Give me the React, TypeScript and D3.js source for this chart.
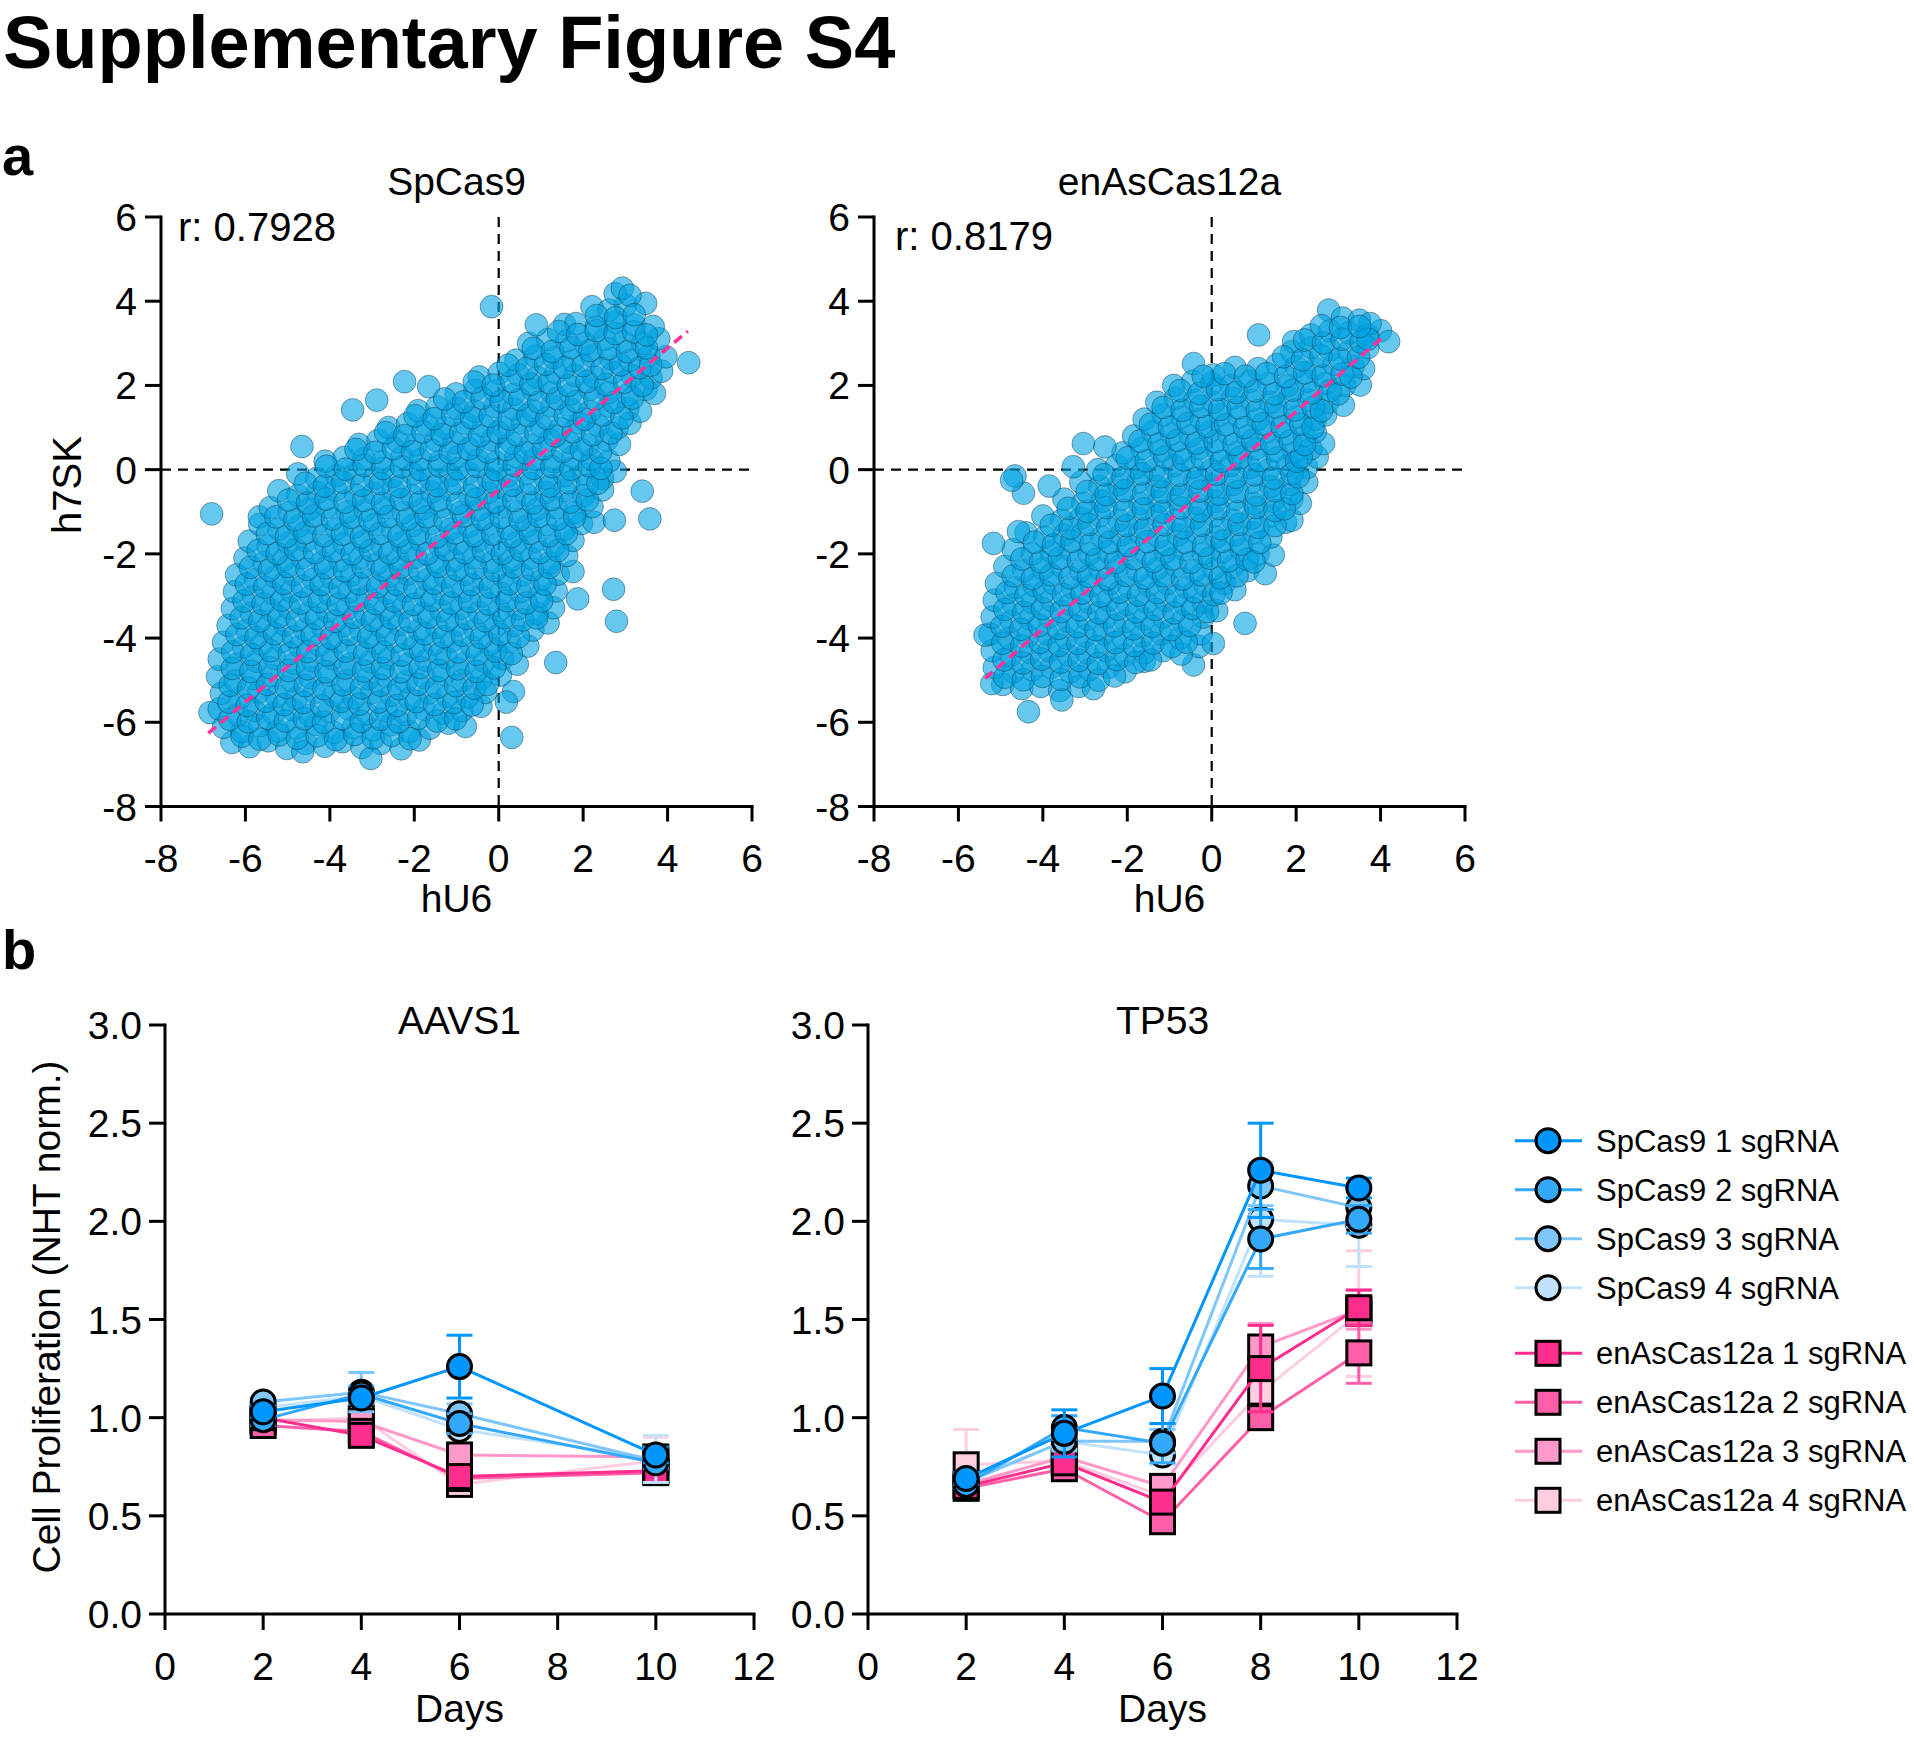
import React from "react";
import * as d3 from "d3";

const FONT = "'Liberation Sans', Arial, Helvetica, sans-serif";

// ---------------- panel a : scatter data ----------------
const scatterTicks = [-8, -6, -4, -2, 0, 2, 4, 6];
const scatterTitles = ["SpCas9", "enAsCas12a"];
const scatterCorr = ["r: 0.7928", "r: 0.8179"];

// outer / edge guides of the SpCas9 cloud
const spCas9Points: [number, number][] = [
  [-6.32,-6.48],[-5.9,-6.58],[-5.46,-6.44],[-5.02,-6.62],[-4.58,-6.5],[-4.12,-6.57],[-3.7,-6.46],[-3.24,-6.6],[-2.79,-6.5],[-2.31,-6.63],[-1.88,-6.42],[-3.03,-6.86],[-4.64,-6.7],
  [-6.84,-5.77],[-6.52,-6.12],[-6.08,-6.22],[-5.66,-6.08],[-5.24,-6.2],[-4.79,-6.13],[-4.33,-6.05],[-3.91,-6.24],[-3.44,-6.12],[-2.98,-6.18],[-2.56,-6.06],[-2.12,-6.22],[-1.63,-6.14],[-1.19,-6.02],[-0.79,-6.1],
  [-6.62,-5.68],[-6.18,-5.82],[-5.79,-5.72],[-5.33,-5.79],[-4.88,-5.7],[-4.47,-5.84],[-4.02,-5.74],[-3.56,-5.68],[-3.12,-5.8],[-2.66,-5.73],[-2.2,-5.82],[-1.77,-5.69],[-1.31,-5.78],[-0.87,-5.72],[-0.42,-5.62],
  [-6.57,-5.31],[-6.13,-5.42],[-5.68,-5.28],[-5.26,-5.38],[-4.8,-5.43],[-4.36,-5.29],[-3.91,-5.37],[-3.43,-5.42],[-3.01,-5.3],[-2.54,-5.36],[-2.11,-5.44],[-1.64,-5.3],[-1.22,-5.38],[-0.74,-5.4],[-0.31,-5.29],[0.35,-5.27],[0.18,-5.52],[0.31,-6.36],
  [-6.66,-4.92],[-6.24,-5.02],[-5.81,-4.96],[-5.37,-4.89],[-4.9,-5.01],[-4.46,-4.94],[-4.01,-4.88],[-3.57,-5.0],[-3.09,-4.96],[-2.66,-4.9],[-2.19,-5.03],[-1.76,-4.94],[-1.3,-4.87],[-0.86,-5.0],[-0.41,-4.96],[0.04,-4.88],
  [-6.62,-4.5],[-6.19,-4.62],[-5.74,-4.55],[-5.31,-4.48],[-4.84,-4.6],[-4.41,-4.54],[-3.94,-4.49],[-3.51,-4.61],[-3.04,-4.56],[-2.61,-4.48],[-2.14,-4.62],[-1.71,-4.53],[-1.24,-4.47],[-0.81,-4.6],[-0.34,-4.55],[0.09,-4.49],[0.44,-4.62],[1.35,-4.58],
  [-6.52,-4.1],[-6.04,-4.21],[-5.62,-4.14],[-5.14,-4.08],[-4.71,-4.2],[-4.24,-4.16],[-3.81,-4.09],[-3.34,-4.22],[-2.91,-4.13],[-2.44,-4.08],[-2.01,-4.21],[-1.54,-4.14],[-1.11,-4.07],[-0.64,-4.2],[-0.21,-4.15],[0.26,-4.09],[0.69,-4.19],
  [-6.41,-3.7],[-5.96,-3.81],[-5.49,-3.74],[-5.06,-3.69],[-4.59,-3.8],[-4.16,-3.76],[-3.69,-3.7],[-3.26,-3.82],[-2.79,-3.73],[-2.36,-3.68],[-1.89,-3.81],[-1.46,-3.75],[-0.99,-3.69],[-0.56,-3.8],[-0.09,-3.74],[0.36,-3.7],[0.81,-3.81],[1.17,-3.64],
  [-6.31,-3.3],[-5.86,-3.41],[-5.39,-3.34],[-4.96,-3.29],[-4.49,-3.4],[-4.06,-3.36],[-3.59,-3.3],[-3.16,-3.42],[-2.69,-3.33],[-2.26,-3.28],[-1.79,-3.41],[-1.36,-3.35],[-0.89,-3.29],[-0.46,-3.4],[0.01,-3.34],[0.46,-3.3],[0.91,-3.41],[1.3,-3.28],[2.79,-3.6],[1.87,-3.07],
  [-6.26,-2.9],[-5.81,-3.01],[-5.34,-2.94],[-4.91,-2.89],[-4.44,-3.0],[-4.01,-2.96],[-3.54,-2.9],[-3.11,-3.02],[-2.64,-2.93],[-2.21,-2.88],[-1.74,-3.01],[-1.31,-2.95],[-0.84,-2.89],[-0.41,-3.0],[0.06,-2.94],[0.51,-2.9],[0.96,-3.01],[1.36,-2.88],[2.72,-2.84],
  [-6.21,-2.5],[-5.76,-2.61],[-5.29,-2.54],[-4.86,-2.49],[-4.39,-2.6],[-3.96,-2.56],[-3.49,-2.5],[-3.06,-2.62],[-2.59,-2.53],[-2.16,-2.48],[-1.69,-2.61],[-1.26,-2.55],[-0.79,-2.49],[-0.36,-2.6],[0.11,-2.54],[0.56,-2.5],[1.01,-2.61],[1.41,-2.48],[1.76,-2.42],
  [-6.01,-2.1],[-5.56,-2.21],[-5.09,-2.14],[-4.66,-2.09],[-4.19,-2.2],[-3.76,-2.16],[-3.29,-2.1],[-2.86,-2.22],[-2.39,-2.13],[-1.96,-2.08],[-1.49,-2.21],[-1.06,-2.15],[-0.59,-2.09],[-0.16,-2.2],[0.31,-2.14],[0.76,-2.1],[1.21,-2.21],[1.61,-2.04],
  [-5.91,-1.7],[-5.46,-1.81],[-4.99,-1.74],[-4.56,-1.69],[-4.09,-1.8],[-3.66,-1.76],[-3.19,-1.7],[-2.76,-1.82],[-2.29,-1.73],[-1.86,-1.68],[-1.39,-1.81],[-0.96,-1.75],[-0.49,-1.69],[-0.06,-1.8],[0.41,-1.74],[0.86,-1.7],[1.31,-1.81],[1.76,-1.68],
  [-5.66,-1.3],[-5.21,-1.41],[-4.74,-1.34],[-4.31,-1.29],[-3.84,-1.4],[-3.41,-1.36],[-2.94,-1.3],[-2.51,-1.42],[-2.04,-1.33],[-1.61,-1.28],[-1.14,-1.41],[-0.71,-1.35],[-0.24,-1.29],[0.21,-1.4],[0.66,-1.34],[1.11,-1.3],[1.56,-1.41],[1.96,-1.28],[2.26,-1.25],[2.74,-1.2],[3.58,-1.17],[-5.67,-1.12],[-6.8,-1.05],
  [-5.41,-0.9],[-4.96,-1.01],[-4.49,-0.94],[-4.06,-0.89],[-3.59,-1.0],[-3.16,-0.96],[-2.69,-0.9],[-2.26,-1.02],[-1.79,-0.93],[-1.36,-0.88],[-0.89,-1.01],[-0.46,-0.95],[0.01,-0.89],[0.46,-1.0],[0.91,-0.94],[1.36,-0.9],[1.81,-1.01],[2.21,-0.88],
  [-5.21,-0.5],[-4.76,-0.61],[-4.29,-0.54],[-3.86,-0.49],[-3.39,-0.6],[-2.96,-0.56],[-2.49,-0.5],[-2.06,-0.62],[-1.59,-0.53],[-1.16,-0.48],[-0.69,-0.61],[-0.26,-0.55],[0.21,-0.49],[0.66,-0.6],[1.11,-0.54],[1.56,-0.5],[2.01,-0.61],[2.46,-0.48],[3.4,-0.51],
  [-4.76,-0.1],[-4.31,-0.21],[-3.84,-0.14],[-3.41,-0.09],[-2.94,-0.2],[-2.51,-0.16],[-2.04,-0.1],[-1.61,-0.22],[-1.14,-0.13],[-0.71,-0.08],[-0.24,-0.21],[0.21,-0.15],[0.66,-0.09],[1.11,-0.2],[1.56,-0.14],[2.01,-0.1],[2.46,-0.21],[2.76,-0.04],
  [-4.11,0.2],[-3.66,0.29],[-3.19,0.26],[-2.76,0.19],[-2.29,0.3],[-1.86,0.24],[-1.39,0.2],[-0.96,0.31],[-0.49,0.23],[-0.06,0.18],[0.41,0.31],[0.86,0.25],[1.31,0.19],[1.76,0.3],[2.21,0.24],[2.61,0.2],[-4.66,0.55],
  [-3.31,0.6],[-2.86,0.69],[-2.39,0.66],[-1.96,0.59],[-1.49,0.7],[-1.06,0.64],[-0.59,0.6],[-0.16,0.71],[0.31,0.63],[0.76,0.58],[1.21,0.71],[1.66,0.65],[2.11,0.59],[2.56,0.7],[2.86,0.6],
  [-2.61,1.0],[-2.16,1.09],[-1.69,1.06],[-1.26,0.99],[-0.79,1.1],[-0.36,1.04],[0.11,1.0],[0.56,1.11],[1.01,1.03],[1.46,0.98],[1.91,1.11],[2.36,1.05],[2.81,0.99],[3.11,1.1],
  [-1.91,1.4],[-1.46,1.49],[-0.99,1.46],[-0.56,1.39],[-0.09,1.5],[0.36,1.44],[0.81,1.4],[1.26,1.51],[1.71,1.43],[2.16,1.38],[2.61,1.51],[3.06,1.45],[3.36,1.39],[-3.46,1.42],[-2.89,1.65],
  [-1.01,1.8],[-0.56,1.89],[-0.09,1.86],[0.36,1.79],[0.81,1.9],[1.26,1.84],[1.71,1.8],[2.16,1.91],[2.61,1.83],[3.06,1.78],[3.49,1.91],[3.69,1.81],[-2.23,2.09],[-1.66,1.97],
  [-0.46,2.2],[0.01,2.29],[0.46,2.26],[0.91,2.19],[1.36,2.3],[1.81,2.24],[2.26,2.2],[2.71,2.31],[3.16,2.23],[3.61,2.18],[3.86,2.34],
  [0.41,2.6],[0.86,2.69],[1.31,2.66],[1.76,2.59],[2.21,2.7],[2.66,2.64],[3.11,2.6],[3.56,2.71],[3.96,2.68],[4.5,2.54],
  [0.71,3.0],[1.16,3.09],[1.61,3.06],[2.06,2.99],[2.51,3.1],[2.96,3.04],[3.41,3.0],[3.79,3.11],
  [0.89,3.44],[1.56,3.45],[1.83,3.47],[2.31,3.39],[2.76,3.5],[3.21,3.44],[3.66,3.4],
  [-0.17,3.87],[2.21,3.87],[2.61,3.79],[3.01,3.91],[3.48,3.95],
  [2.76,4.18],[2.93,4.31],[3.11,4.14],
];

// dense core of the SpCas9 cloud
const spCas9CorePoints: [number, number][] = [
  [-6.08,-6.33],[-5.66,-6.4],[-5.2,-6.3],[-4.77,-6.38],[-4.3,-6.32],[-3.86,-6.41],[-3.41,-6.29],[-2.97,-6.37],[-2.53,-6.31],[-2.1,-6.39],
  [-6.37,-5.93],[-5.93,-5.99],[-5.47,-5.9],[-5.05,-5.97],[-4.6,-5.92],[-4.15,-6.0],[-3.7,-5.91],[-3.26,-5.98],[-2.8,-5.93],[-2.37,-5.99],[-1.9,-5.9],[-1.46,-5.97],[-1.02,-5.92],
  [-6.39,-5.52],[-5.96,-5.6],[-5.51,-5.5],[-5.08,-5.58],[-4.62,-5.53],[-4.19,-5.61],[-3.73,-5.5],[-3.3,-5.57],[-2.84,-5.52],[-2.41,-5.6],[-1.95,-5.51],[-1.52,-5.58],[-1.06,-5.53],[-0.63,-5.59],
  [-6.36,-5.12],[-5.92,-5.19],[-5.48,-5.1],[-5.03,-5.17],[-4.58,-5.13],[-4.14,-5.2],[-3.69,-5.11],[-3.25,-5.18],[-2.8,-5.12],[-2.36,-5.2],[-1.91,-5.1],[-1.47,-5.17],[-1.02,-5.13],[-0.58,-5.19],[-0.27,-5.1],
  [-6.31,-4.72],[-5.87,-4.79],[-5.42,-4.7],[-4.98,-4.77],[-4.53,-4.73],[-4.09,-4.8],[-3.64,-4.71],[-3.2,-4.78],[-2.75,-4.72],[-2.31,-4.8],[-1.86,-4.7],[-1.42,-4.77],[-0.97,-4.73],[-0.53,-4.79],[-0.1,-4.71],
  [-6.3,-4.33],[-5.85,-4.39],[-5.41,-4.3],[-4.96,-4.37],[-4.52,-4.32],[-4.07,-4.4],[-3.63,-4.31],[-3.18,-4.38],[-2.74,-4.33],[-2.29,-4.4],[-1.85,-4.3],[-1.4,-4.37],[-0.96,-4.33],[-0.51,-4.39],[-0.07,-4.31],[0.3,-4.37],
  [-6.2,-3.92],[-5.75,-3.99],[-5.31,-3.9],[-4.86,-3.97],[-4.42,-3.93],[-3.97,-4.0],[-3.53,-3.91],[-3.08,-3.98],[-2.64,-3.92],[-2.19,-4.0],[-1.75,-3.9],[-1.3,-3.97],[-0.86,-3.93],[-0.41,-3.99],[0.03,-3.91],[0.47,-3.97],
  [-6.1,-3.52],[-5.66,-3.59],[-5.21,-3.5],[-4.77,-3.57],[-4.32,-3.53],[-3.88,-3.6],[-3.43,-3.51],[-2.99,-3.58],[-2.54,-3.52],[-2.1,-3.6],[-1.65,-3.5],[-1.21,-3.57],[-0.76,-3.53],[-0.32,-3.59],[0.13,-3.51],[0.57,-3.57],[0.9,-3.52],
  [-6.03,-3.12],[-5.58,-3.19],[-5.14,-3.1],[-4.69,-3.17],[-4.25,-3.13],[-3.8,-3.2],[-3.36,-3.11],[-2.91,-3.18],[-2.47,-3.12],[-2.02,-3.2],[-1.58,-3.1],[-1.13,-3.17],[-0.69,-3.13],[-0.24,-3.19],[0.2,-3.11],[0.65,-3.17],[1.02,-3.12],
  [-5.98,-2.72],[-5.54,-2.79],[-5.09,-2.7],[-4.65,-2.77],[-4.2,-2.73],[-3.76,-2.8],[-3.31,-2.71],[-2.87,-2.78],[-2.42,-2.72],[-1.98,-2.8],[-1.53,-2.7],[-1.09,-2.77],[-0.64,-2.73],[-0.2,-2.79],[0.25,-2.71],[0.69,-2.77],[1.1,-2.72],
  [-5.88,-2.32],[-5.43,-2.39],[-4.99,-2.3],[-4.54,-2.37],[-4.1,-2.33],[-3.65,-2.4],[-3.21,-2.31],[-2.76,-2.38],[-2.32,-2.32],[-1.87,-2.4],[-1.43,-2.3],[-0.98,-2.37],[-0.54,-2.33],[-0.09,-2.39],[0.35,-2.31],[0.8,-2.37],[1.2,-2.32],
  [-5.7,-1.92],[-5.25,-1.99],[-4.81,-1.9],[-4.36,-1.97],[-3.92,-1.93],[-3.47,-2.0],[-3.03,-1.91],[-2.58,-1.98],[-2.14,-1.92],[-1.69,-2.0],[-1.25,-1.9],[-0.8,-1.97],[-0.36,-1.93],[0.09,-1.99],[0.53,-1.91],[0.98,-1.97],[1.4,-1.92],
  [-5.48,-1.52],[-5.03,-1.59],[-4.59,-1.5],[-4.14,-1.57],[-3.7,-1.53],[-3.25,-1.6],[-2.81,-1.51],[-2.36,-1.58],[-1.92,-1.52],[-1.47,-1.6],[-1.03,-1.5],[-0.58,-1.57],[-0.14,-1.53],[0.31,-1.59],[0.75,-1.51],[1.2,-1.57],[1.6,-1.52],
  [-5.28,-1.12],[-4.83,-1.19],[-4.39,-1.1],[-3.94,-1.17],[-3.5,-1.13],[-3.05,-1.2],[-2.61,-1.11],[-2.16,-1.18],[-1.72,-1.12],[-1.27,-1.2],[-0.83,-1.1],[-0.38,-1.17],[0.06,-1.13],[0.51,-1.19],[0.95,-1.11],[1.4,-1.17],[1.8,-1.12],
  [-4.98,-0.72],[-4.53,-0.79],[-4.09,-0.7],[-3.64,-0.77],[-3.2,-0.73],[-2.75,-0.8],[-2.31,-0.71],[-1.86,-0.78],[-1.42,-0.72],[-0.97,-0.8],[-0.53,-0.7],[-0.08,-0.77],[0.36,-0.73],[0.81,-0.79],[1.25,-0.71],[1.7,-0.77],[2.1,-0.72],
  [-4.58,-0.32],[-4.13,-0.39],[-3.69,-0.3],[-3.24,-0.37],[-2.8,-0.33],[-2.35,-0.4],[-1.91,-0.31],[-1.46,-0.38],[-1.02,-0.32],[-0.57,-0.4],[-0.13,-0.3],[0.32,-0.37],[0.76,-0.33],[1.21,-0.39],[1.65,-0.31],[2.1,-0.37],[2.35,-0.32],
  [-4.08,0.08],[-3.63,0.01],[-3.19,0.1],[-2.74,0.03],[-2.3,0.07],[-1.85,0.0],[-1.41,0.09],[-0.96,0.02],[-0.52,0.08],[-0.07,0.0],[0.37,0.1],[0.82,0.03],[1.26,0.07],[1.71,0.01],[2.15,0.09],[2.42,0.03],
  [-3.38,0.48],[-2.93,0.41],[-2.49,0.5],[-2.04,0.43],[-1.6,0.47],[-1.15,0.4],[-0.71,0.49],[-0.26,0.42],[0.18,0.48],[0.63,0.4],[1.07,0.5],[1.52,0.43],[1.96,0.47],[2.41,0.41],
  [-2.68,0.88],[-2.23,0.81],[-1.79,0.9],[-1.34,0.83],[-0.9,0.87],[-0.45,0.8],[-0.01,0.89],[0.44,0.82],[0.88,0.88],[1.33,0.8],[1.77,0.9],[2.22,0.83],[2.66,0.87],
  [-1.98,1.28],[-1.53,1.21],[-1.09,1.3],[-0.64,1.23],[-0.2,1.27],[0.25,1.2],[0.69,1.29],[1.14,1.22],[1.58,1.28],[2.03,1.2],[2.47,1.3],[2.92,1.23],
  [-1.28,1.68],[-0.83,1.61],[-0.39,1.7],[0.06,1.63],[0.5,1.67],[0.95,1.6],[1.39,1.69],[1.84,1.62],[2.28,1.68],[2.73,1.6],[3.17,1.7],
  [-0.58,2.08],[-0.13,2.01],[0.31,2.1],[0.76,2.03],[1.2,2.07],[1.65,2.0],[2.09,2.09],[2.54,2.02],[2.98,2.08],[3.4,2.0],
  [0.22,2.48],[0.67,2.41],[1.11,2.5],[1.56,2.43],[2.0,2.47],[2.45,2.4],[2.89,2.49],[3.34,2.42],[3.6,2.48],
  [0.82,2.88],[1.27,2.81],[1.71,2.9],[2.16,2.83],[2.6,2.87],[3.05,2.8],[3.5,2.89],
  [1.42,3.28],[1.87,3.21],[2.31,3.3],[2.76,3.23],[3.2,3.27],[3.5,3.2],
  [2.32,3.66],[2.77,3.61],[3.21,3.68],
];

const enAsCas12aPoints: [number, number][] = [
  [-4.95,-5.1],[-4.5,-5.2],[-4.05,-5.15],[-3.6,-5.25],[-3.15,-5.15],[-2.8,-5.2],[-4.34,-5.75],[-3.55,-5.47],[-5.21,-5.08],
  [-5.15,-4.7],[-4.7,-4.8],[-4.25,-4.75],[-3.8,-4.7],[-3.35,-4.8],[-2.9,-4.75],[-2.45,-4.7],[-2.05,-4.8],[-0.43,-4.64],[-1.6,-4.55],
  [-5.2,-4.3],[-4.75,-4.4],[-4.3,-4.35],[-3.85,-4.3],[-3.4,-4.4],[-2.95,-4.35],[-2.5,-4.3],[-2.05,-4.4],[-1.6,-4.35],[-1.15,-4.3],[-0.3,-4.2],[-0.72,-4.38],
  [-5.25,-3.9],[-4.8,-4.0],[-4.35,-3.95],[-3.9,-3.9],[-3.45,-4.0],[-3.0,-3.95],[-2.55,-3.9],[-2.1,-4.0],[-1.65,-3.95],[-1.2,-3.9],[-0.75,-4.0],[-0.25,-3.9],[0.04,-4.13],[-5.37,-3.93],
  [-5.2,-3.5],[-4.75,-3.6],[-4.3,-3.55],[-3.85,-3.5],[-3.4,-3.6],[-2.95,-3.55],[-2.5,-3.5],[-2.05,-3.6],[-1.6,-3.55],[-1.15,-3.5],[-0.7,-3.6],[-0.2,-3.5],[0.79,-3.65],
  [-5.15,-3.1],[-4.7,-3.2],[-4.25,-3.15],[-3.8,-3.1],[-3.35,-3.2],[-2.9,-3.15],[-2.45,-3.1],[-2.0,-3.2],[-1.55,-3.15],[-1.1,-3.1],[-0.65,-3.2],[-0.2,-3.15],[0.12,-3.35],
  [-5.1,-2.7],[-4.65,-2.8],[-4.2,-2.75],[-3.75,-2.7],[-3.3,-2.8],[-2.85,-2.75],[-2.4,-2.7],[-1.95,-2.8],[-1.5,-2.75],[-1.05,-2.7],[-0.6,-2.8],[-0.15,-2.75],[0.3,-2.7],[0.55,-2.85],
  [-4.9,-2.3],[-4.45,-2.4],[-4.0,-2.35],[-3.55,-2.3],[-3.1,-2.4],[-2.65,-2.35],[-2.2,-2.3],[-1.75,-2.4],[-1.3,-2.35],[-0.85,-2.3],[-0.4,-2.4],[0.05,-2.35],[0.5,-2.3],[0.85,-2.4],[1.27,-2.47],
  [-4.7,-1.9],[-4.25,-2.0],[-3.8,-1.95],[-3.35,-1.9],[-2.9,-2.0],[-2.45,-1.95],[-2.0,-1.9],[-1.55,-2.0],[-1.1,-1.95],[-0.65,-1.9],[-0.2,-2.0],[0.25,-1.95],[0.7,-1.9],[1.1,-2.0],[1.46,-2.03],[-5.17,-1.75],
  [-4.4,-1.5],[-3.95,-1.6],[-3.5,-1.55],[-3.05,-1.5],[-2.6,-1.6],[-2.15,-1.55],[-1.7,-1.5],[-1.25,-1.6],[-0.8,-1.55],[-0.35,-1.5],[0.1,-1.6],[0.55,-1.55],[1.0,-1.5],[1.4,-1.6],[-4.58,-1.47],
  [-4.0,-1.1],[-3.55,-1.2],[-3.1,-1.15],[-2.65,-1.1],[-2.2,-1.2],[-1.75,-1.15],[-1.3,-1.1],[-0.85,-1.2],[-0.4,-1.15],[0.05,-1.1],[0.5,-1.2],[0.95,-1.15],[1.4,-1.1],[1.75,-1.25],[1.9,-1.2],
  [-3.5,-0.7],[-3.05,-0.8],[-2.6,-0.75],[-2.15,-0.7],[-1.7,-0.8],[-1.25,-0.75],[-0.8,-0.7],[-0.35,-0.8],[0.1,-0.75],[0.55,-0.7],[1.0,-0.8],[1.45,-0.75],[1.9,-0.7],[2.1,-0.8],[-4.46,-0.56],[-3.85,-0.39],
  [-3.1,-0.3],[-2.65,-0.4],[-2.2,-0.35],[-1.75,-0.3],[-1.3,-0.4],[-0.85,-0.35],[-0.4,-0.3],[0.05,-0.4],[0.5,-0.35],[0.95,-0.3],[1.4,-0.4],[1.85,-0.35],[2.25,-0.3],[-4.66,-0.15],[-4.74,-0.25],
  [-2.7,0.0],[-2.25,0.1],[-1.8,0.05],[-1.35,0.0],[-0.9,0.1],[-0.45,0.05],[0.0,0.0],[0.45,0.1],[0.9,0.05],[1.35,0.0],[1.8,0.1],[2.25,0.05],[-3.28,0.07],[2.5,0.3],
  [-2.1,0.4],[-1.65,0.5],[-1.2,0.45],[-0.75,0.4],[-0.3,0.5],[0.15,0.45],[0.6,0.4],[1.05,0.5],[1.5,0.45],[1.95,0.4],[2.35,0.5],[-3.04,0.62],[-2.53,0.54],[2.65,0.62],
  [-1.85,0.8],[-1.4,0.9],[-0.95,0.85],[-0.5,0.8],[-0.05,0.9],[0.4,0.85],[0.85,0.8],[1.3,0.9],[1.75,0.85],[2.2,0.8],[2.45,0.9],
  [-1.6,1.2],[-1.15,1.3],[-0.7,1.25],[-0.25,1.2],[0.2,1.3],[0.65,1.25],[1.1,1.2],[1.55,1.3],[2.0,1.25],[2.45,1.2],[2.7,1.3],
  [-1.3,1.6],[-0.85,1.7],[-0.4,1.65],[0.05,1.6],[0.5,1.7],[0.95,1.65],[1.4,1.6],[1.85,1.7],[2.3,1.65],[2.75,1.6],[3.12,1.53],
  [-0.9,2.0],[-0.45,2.1],[0.0,2.05],[0.45,2.0],[0.9,2.1],[1.35,2.05],[1.8,2.0],[2.25,2.1],[2.7,2.05],[3.15,2.0],[3.52,2.01],
  [-0.43,2.52],[0.04,2.25],[0.55,2.43],[1.1,2.4],[1.55,2.5],[2.0,2.45],[2.45,2.4],[2.9,2.5],[3.35,2.45],[3.6,2.4],
  [1.9,2.8],[2.35,2.9],[2.8,2.85],[3.25,2.8],[3.7,2.9],[1.11,3.2],[1.94,3.04],
  [2.35,3.2],[2.8,3.3],[3.25,3.25],[3.7,3.2],[4.0,3.3],[4.19,3.04],
  [2.77,3.79],[3.1,3.6],[3.5,3.55],[3.75,3.47],
];

const enAsCas12aCorePoints: [number, number][] = [
  [-4.9,-4.93],[-4.46,-4.99],[-4.01,-4.91],[-3.57,-4.98],[-3.12,-4.92],[-2.68,-5.0],[-2.3,-4.9],
  [-4.92,-4.52],[-4.47,-4.59],[-4.03,-4.5],[-3.58,-4.57],[-3.14,-4.53],[-2.69,-4.6],[-2.25,-4.51],[-1.8,-4.58],[-1.45,-4.52],
  [-4.95,-4.12],[-4.5,-4.19],[-4.06,-4.1],[-3.61,-4.17],[-3.17,-4.13],[-2.72,-4.2],[-2.28,-4.11],[-1.83,-4.18],[-1.39,-4.12],[-0.94,-4.2],[-0.6,-4.1],
  [-4.97,-3.72],[-4.52,-3.79],[-4.08,-3.7],[-3.63,-3.77],[-3.19,-3.73],[-2.74,-3.8],[-2.3,-3.71],[-1.85,-3.78],[-1.41,-3.72],[-0.96,-3.8],[-0.52,-3.7],
  [-4.9,-3.32],[-4.45,-3.39],[-4.01,-3.3],[-3.56,-3.37],[-3.12,-3.33],[-2.67,-3.4],[-2.23,-3.31],[-1.78,-3.38],[-1.34,-3.32],[-0.89,-3.4],[-0.45,-3.3],[-0.1,-3.37],
  [-4.85,-2.92],[-4.4,-2.99],[-3.96,-2.9],[-3.51,-2.97],[-3.07,-2.93],[-2.62,-3.0],[-2.18,-2.91],[-1.73,-2.98],[-1.29,-2.92],[-0.84,-3.0],[-0.4,-2.9],[0.05,-2.97],[0.22,-2.93],
  [-4.7,-2.52],[-4.25,-2.59],[-3.81,-2.5],[-3.36,-2.57],[-2.92,-2.53],[-2.47,-2.6],[-2.03,-2.51],[-1.58,-2.58],[-1.14,-2.52],[-0.69,-2.6],[-0.25,-2.5],[0.2,-2.57],[0.6,-2.52],
  [-4.5,-2.12],[-4.05,-2.19],[-3.61,-2.1],[-3.16,-2.17],[-2.72,-2.13],[-2.27,-2.2],[-1.83,-2.11],[-1.38,-2.18],[-0.94,-2.12],[-0.49,-2.2],[-0.05,-2.1],[0.4,-2.17],[0.84,-2.13],[1.0,-2.19],
  [-4.2,-1.72],[-3.75,-1.79],[-3.31,-1.7],[-2.86,-1.77],[-2.42,-1.73],[-1.97,-1.8],[-1.53,-1.71],[-1.08,-1.78],[-0.64,-1.72],[-0.19,-1.8],[0.25,-1.7],[0.7,-1.77],[1.14,-1.73],
  [-3.8,-1.32],[-3.35,-1.39],[-2.91,-1.3],[-2.46,-1.37],[-2.02,-1.33],[-1.57,-1.4],[-1.13,-1.31],[-0.68,-1.38],[-0.24,-1.32],[0.21,-1.4],[0.65,-1.3],[1.1,-1.37],[1.5,-1.33],
  [-3.4,-0.92],[-2.95,-0.99],[-2.51,-0.9],[-2.06,-0.97],[-1.62,-0.93],[-1.17,-1.0],[-0.73,-0.91],[-0.28,-0.98],[0.16,-0.92],[0.61,-1.0],[1.05,-0.9],[1.5,-0.97],[1.72,-0.93],
  [-2.95,-0.52],[-2.5,-0.59],[-2.06,-0.5],[-1.61,-0.57],[-1.17,-0.53],[-0.72,-0.6],[-0.28,-0.51],[0.17,-0.58],[0.61,-0.52],[1.06,-0.6],[1.5,-0.5],[1.9,-0.57],
  [-2.55,-0.12],[-2.1,-0.19],[-1.66,-0.1],[-1.21,-0.17],[-0.77,-0.13],[-0.32,-0.2],[0.12,-0.11],[0.57,-0.18],[1.01,-0.12],[1.46,-0.2],[1.9,-0.1],[2.05,-0.17],
  [-2.0,0.28],[-1.55,0.21],[-1.11,0.3],[-0.66,0.23],[-0.22,0.27],[0.23,0.2],[0.67,0.29],[1.12,0.22],[1.56,0.28],[2.01,0.2],[2.12,0.3],
  [-1.7,0.68],[-1.25,0.61],[-0.81,0.7],[-0.36,0.63],[0.08,0.67],[0.53,0.6],[0.97,0.69],[1.42,0.62],[1.86,0.68],[2.2,0.6],
  [-1.45,1.08],[-1.0,1.01],[-0.56,1.1],[-0.11,1.03],[0.33,1.07],[0.78,1.0],[1.22,1.09],[1.67,1.02],[2.11,1.08],[2.4,1.0],
  [-1.15,1.48],[-0.7,1.41],[-0.26,1.5],[0.19,1.43],[0.63,1.47],[1.08,1.4],[1.52,1.49],[1.97,1.42],[2.41,1.48],[2.6,1.4],
  [-0.75,1.88],[-0.3,1.81],[0.14,1.9],[0.59,1.83],[1.03,1.87],[1.48,1.8],[1.92,1.89],[2.37,1.82],[2.81,1.88],[3.0,1.8],
  [-0.2,2.22],[0.3,2.28],[0.8,2.22],[1.3,2.28],[1.75,2.21],[2.2,2.3],[2.64,2.23],[3.09,2.27],[3.3,2.2],
  [1.7,2.68],[2.15,2.61],[2.59,2.7],[3.04,2.63],[3.48,2.67],
  [2.2,3.08],[2.65,3.01],[3.09,3.1],[3.54,3.03],[3.7,3.1],
  [2.6,3.42],[3.05,3.38],[3.5,3.4],
];

const spCas9FitX = [-6.88, 4.48];
const spCas9FitY = [-6.26, 3.29];
const enAsCas12aFitX = [-5.37, 4.07];
const enAsCas12aFitY = [-4.96, 3.16];

// ---------------- panel b : proliferation data ----------------
const dayTicks = [0, 2, 4, 6, 8, 10, 12];
const propTicks = [0, 0.5, 1, 1.5, 2, 2.5, 3];
const growthTitles = ["AAVS1", "TP53"];
const seriesNames = [
  "SpCas9 1 sgRNA", "SpCas9 2 sgRNA", "SpCas9 3 sgRNA", "SpCas9 4 sgRNA",
  "enAsCas12a 1 sgRNA", "enAsCas12a 2 sgRNA", "enAsCas12a 3 sgRNA", "enAsCas12a 4 sgRNA",
];
const seriesColors = ["#0096FF", "#34A8FA", "#7FC6FA", "#C2E2FB", "#FF2D8D", "#FF5FA8", "#FF99C9", "#FFCDE2"];

const aavs1Days = [2, 4, 6, 10];
const aavs1Means = [
  [1.03, 1.10, 1.26, 0.81],
  [0.99, 1.12, 0.97, 0.77],
  [1.08, 1.13, 1.02, 0.78],
  [1.05, 1.11, 0.94, 0.79],
  [1.00, 0.91, 0.70, 0.73],
  [0.96, 0.93, 0.69, 0.72],
  [0.99, 0.98, 0.81, 0.80],
  [0.98, 1.00, 0.66, 0.78],
];
const aavs1SD = [
  [0.03, 0.03, 0.16, 0.04],
  [0.03, 0.04, 0.05, 0.03],
  [0.02, 0.10, 0.05, 0.03],
  [0.02, 0.04, 0.04, 0.12],
  [0.02, 0.03, 0.04, 0.02],
  [0.02, 0.03, 0.03, 0.02],
  [0.02, 0.03, 0.04, 0.03],
  [0.02, 0.03, 0.06, 0.12],
];

const tp53Days = [2, 4, 6, 8, 10];
const tp53Means = [
  [0.69, 0.92, 1.11, 2.26, 2.17],
  [0.66, 0.95, 0.87, 1.91, 2.01],
  [0.67, 0.88, 0.88, 2.18, 2.07],
  [0.68, 0.88, 0.81, 2.01, 1.98],
  [0.65, 0.77, 0.57, 1.25, 1.56],
  [0.64, 0.74, 0.47, 1.00, 1.33],
  [0.66, 0.80, 0.65, 1.36, 1.55],
  [0.76, 0.78, 0.60, 1.13, 1.53],
];
const tp53SD = [
  [0.03, 0.12, 0.14, 0.24, 0.05],
  [0.02, 0.06, 0.10, 0.15, 0.07],
  [0.02, 0.05, 0.06, 0.10, 0.10],
  [0.02, 0.04, 0.05, 0.29, 0.21],
  [0.02, 0.03, 0.05, 0.22, 0.09],
  [0.02, 0.03, 0.03, 0.05, 0.155],
  [0.02, 0.03, 0.04, 0.12, 0.10],
  [0.18, 0.04, 0.04, 0.08, 0.32],
];

const drawOrder = [7, 6, 5, 4, 3, 2, 1, 0];

// ---------------- components ----------------
type ScatterProps = {
  x0: number;
  points: [number, number][];
  fitX: number[];
  fitY: number[];
  title: string;
  corr: string;
  corrX: number;
  corrY: number;
  yLabel?: string;
};

function Scatter({ x0, points, fitX, fitY, title, corr, corrX, corrY, yLabel }: ScatterProps) {
  const x = d3.scaleLinear().domain([-8, 6]).range([x0, x0 + 591]);
  const y = d3.scaleLinear().domain([-8, 6]).range([806.5, 217]);
  const fitLine = d3
    .line<number>()
    .x((d) => x(d))
    .y((_, i) => y(fitY[i]));
  const cx = (x0 + x0 + 591) / 2;
  return (
    <g>
      <line x1={x(0)} x2={x(0)} y1={y(6)} y2={y(-8)} stroke="#000" strokeWidth={2.2} strokeDasharray="10 7" />
      <line x1={x(-8)} x2={x(6)} y1={y(0)} y2={y(0)} stroke="#000" strokeWidth={2.2} strokeDasharray="10 7" />
      {points.map(([px, py], i) => (
        <circle
          key={i}
          cx={x(px)}
          cy={y(py)}
          r={11.4}
          fill="#00A3E3"
          fillOpacity={0.6}
          stroke="#0d2533"
          strokeOpacity={0.4}
          strokeWidth={1}
        />
      ))}
      <path d={fitLine(fitX) || ""} fill="none" stroke="#FF3399" strokeWidth={3.6} strokeDasharray="10 6" />
      {/* axes */}
      <line x1={x0} x2={x0} y1={y(6) - 1.5} y2={y(-8) + 1.5} stroke="#000" strokeWidth={3} />
      <line x1={x0 - 1.5} x2={x(6) + 1.5} y1={y(-8)} y2={y(-8)} stroke="#000" strokeWidth={3} />
      {scatterTicks.map((t) => (
        <g key={"y" + t}>
          <line x1={x0 - 16} x2={x0} y1={y(t)} y2={y(t)} stroke="#000" strokeWidth={3} />
          <text x={x0 - 24} y={y(t)} dy="0.36em" textAnchor="end" fontSize={39} fontFamily={FONT}>
            {t}
          </text>
        </g>
      ))}
      {scatterTicks.map((t) => (
        <g key={"x" + t}>
          <line x1={x(t)} x2={x(t)} y1={y(-8)} y2={y(-8) + 15} stroke="#000" strokeWidth={3} />
          <text x={x(t)} y={872} textAnchor="middle" fontSize={39} fontFamily={FONT}>
            {t}
          </text>
        </g>
      ))}
      <text x={cx} y={195} textAnchor="middle" fontSize={39} fontFamily={FONT}>
        {title}
      </text>
      <text x={corrX} y={corrY} fontSize={40} fontFamily={FONT}>
        {corr}
      </text>
      <text x={cx} y={912} textAnchor="middle" fontSize={39} fontFamily={FONT}>
        hU6
      </text>
      {yLabel && (
        <text transform="translate(81,485) rotate(-90)" textAnchor="middle" fontSize={40} fontFamily={FONT}>
          {yLabel}
        </text>
      )}
    </g>
  );
}

type GrowthProps = {
  x0: number;
  days: number[];
  means: number[][];
  sds: number[][];
  title: string;
  yLabel?: string;
};

function Growth({ x0, days, means, sds, title, yLabel }: GrowthProps) {
  const x = d3.scaleLinear().domain([0, 12]).range([x0, x0 + 589]);
  const y = d3.scaleLinear().domain([0, 3]).range([1614, 1025]);
  const fmt = d3.format(".1f");
  const cx = x0 + 589 / 2;
  return (
    <g>
      {drawOrder.map((s) => {
        const color = seriesColors[s];
        const line = d3
          .line<number>()
          .x((d) => x(d))
          .y((_, i) => y(means[s][i]));
        return (
          <g key={s}>
            {days.map((d, i) => {
              const m = means[s][i];
              const sd = sds[s][i];
              return (
                <g key={i} stroke={color} strokeWidth={3}>
                  <line x1={x(d)} x2={x(d)} y1={y(m - sd)} y2={y(m + sd)} />
                  <line x1={x(d) - 13} x2={x(d) + 13} y1={y(m - sd)} y2={y(m - sd)} />
                  <line x1={x(d) - 13} x2={x(d) + 13} y1={y(m + sd)} y2={y(m + sd)} />
                </g>
              );
            })}
            <path d={line(days) || ""} fill="none" stroke={color} strokeWidth={3} />
            {days.map((d, i) =>
              s < 4 ? (
                <circle key={"m" + i} cx={x(d)} cy={y(means[s][i])} r={12} fill={color} stroke="#000" strokeWidth={3} />
              ) : (
                <rect
                  key={"m" + i}
                  x={x(d) - 12}
                  y={y(means[s][i]) - 12}
                  width={24}
                  height={24}
                  fill={color}
                  stroke="#000"
                  strokeWidth={3}
                />
              )
            )}
          </g>
        );
      })}
      {/* axes */}
      <line x1={x0} x2={x0} y1={y(3) - 1.5} y2={y(0) + 1.5} stroke="#000" strokeWidth={3} />
      <line x1={x0 - 1.5} x2={x(12) + 1.5} y1={y(0)} y2={y(0)} stroke="#000" strokeWidth={3} />
      {propTicks.map((t) => (
        <g key={"y" + t}>
          <line x1={x0 - 16} x2={x0} y1={y(t)} y2={y(t)} stroke="#000" strokeWidth={3} />
          <text x={x0 - 23} y={y(t)} dy="0.36em" textAnchor="end" fontSize={39} fontFamily={FONT}>
            {fmt(t)}
          </text>
        </g>
      ))}
      {dayTicks.map((t) => (
        <g key={"x" + t}>
          <line x1={x(t)} x2={x(t)} y1={y(0)} y2={y(0) + 16} stroke="#000" strokeWidth={3} />
          <text x={x(t)} y={1680} textAnchor="middle" fontSize={39} fontFamily={FONT}>
            {t}
          </text>
        </g>
      ))}
      <text x={cx} y={1034} textAnchor="middle" fontSize={39} fontFamily={FONT}>
        {title}
      </text>
      <text x={cx} y={1722} textAnchor="middle" fontSize={39} fontFamily={FONT}>
        Days
      </text>
      {yLabel && (
        <text transform="translate(60,1317) rotate(-90)" textAnchor="middle" fontSize={39} fontFamily={FONT}>
          {yLabel}
        </text>
      )}
    </g>
  );
}

function Legend() {
  return (
    <g>
      {seriesNames.map((name, i) => {
        const group = i < 4 ? 0 : 1;
        const yy = (group === 0 ? 1140.7 : 1353.3) + (i % 4) * 49;
        const color = seriesColors[i];
        return (
          <g key={name}>
            <line x1={1515} x2={1582} y1={yy} y2={yy} stroke={color} strokeWidth={3} />
            {i < 4 ? (
              <circle cx={1548} cy={yy} r={12} fill={color} stroke="#000" strokeWidth={3} />
            ) : (
              <rect x={1536} y={yy - 12} width={24} height={24} fill={color} stroke="#000" strokeWidth={3} />
            )}
            <text x={1596} y={yy} dy="0.36em" fontSize={31} fontFamily={FONT}>
              {name}
            </text>
          </g>
        );
      })}
    </g>
  );
}

export default function App() {
  const spAll = spCas9Points.concat(spCas9CorePoints);
  const enAll = enAsCas12aPoints.concat(enAsCas12aCorePoints);
  return (
    <div style={{ position: "absolute", left: 0, top: 0, background: "#fff" }}>
      <svg width={1914} height={1743} viewBox="0 0 1914 1743" style={{ display: "block" }}>
        <rect width={1914} height={1743} fill="#fff" />
        <text x={3} y={68} fontSize={74} fontWeight="bold" fontFamily={FONT}>
          Supplementary Figure S4
        </text>
        <text x={2} y={175} fontSize={56} fontWeight="bold" fontFamily={FONT}>
          a
        </text>
        <text x={2} y={969} fontSize={56} fontWeight="bold" fontFamily={FONT}>
          b
        </text>
        <Scatter
          x0={161}
          points={spAll}
          fitX={spCas9FitX}
          fitY={spCas9FitY}
          title={scatterTitles[0]}
          corr={scatterCorr[0]}
          corrX={178}
          corrY={241}
          yLabel="h7SK"
        />
        <Scatter
          x0={874}
          points={enAll}
          fitX={enAsCas12aFitX}
          fitY={enAsCas12aFitY}
          title={scatterTitles[1]}
          corr={scatterCorr[1]}
          corrX={895}
          corrY={250}
        />
        <Growth
          x0={165}
          days={aavs1Days}
          means={aavs1Means}
          sds={aavs1SD}
          title={growthTitles[0]}
          yLabel="Cell Proliferation (NHT norm.)"
        />
        <Growth x0={868} days={tp53Days} means={tp53Means} sds={tp53SD} title={growthTitles[1]} />
        <Legend />
      </svg>
    </div>
  );
}
